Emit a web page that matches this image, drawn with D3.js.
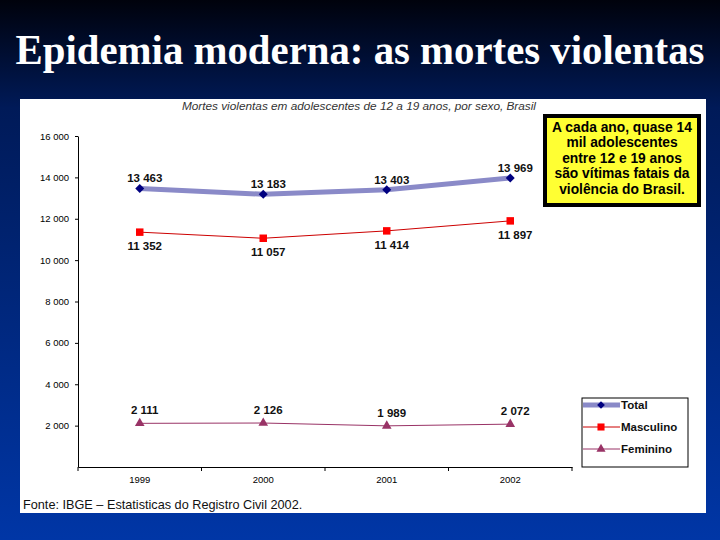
<!DOCTYPE html>
<html>
<head>
<meta charset="utf-8">
<script src="https://cdn.jsdelivr.net/npm/d3@7"></script>
<style>
  body { margin: 0; }
  svg { display: block; }
</style>
</head>
<body>
<svg id="chart" width="720" height="540"></svg>
<script>
// data
var years = ['1999', '2000', '2001', '2002'];
var total = [13463, 13183, 13403, 13969];
var masculino = [11352, 11057, 11414, 11897];
var feminino = [2111, 2126, 1989, 2072];
var yTicks = [2000, 4000, 6000, 8000, 10000, 12000, 14000, 16000];
var calloutLines = ['A cada ano, quase 14', 'mil adolescentes', 'entre 12 e 19 anos',
                    'são vítimas fatais da', 'violência do Brasil.'];

var svg = d3.select('#chart');

// slide background gradient
var defs = svg.append('defs');
var grad = defs.append('linearGradient')
    .attr('id', 'bg').attr('x1', 0).attr('y1', 0).attr('x2', 0).attr('y2', 1);
grad.append('stop').attr('offset', '0%').attr('stop-color', '#00020c');
grad.append('stop').attr('offset', '20%').attr('stop-color', '#001a58');
grad.append('stop').attr('offset', '100%').attr('stop-color', '#0036a6');
svg.append('rect').attr('width', 720).attr('height', 540).attr('fill', 'url(#bg)');

// slide title, stretched a bit vertically to look like the condensed original
svg.append('text')
    .attr('transform', 'translate(360,64) scale(1,1.05)')
    .attr('text-anchor', 'middle')
    .attr('font-family', '"Liberation Serif", "Times New Roman", serif')
    .attr('font-weight', 'bold')
    .attr('font-size', 40.8)
    .attr('fill', 'white')
    .text('Epidemia moderna: as mortes violentas');

// white chart panel
svg.append('rect')
    .attr('x', 20).attr('y', 99).attr('width', 686).attr('height', 414)
    .attr('fill', 'white');

// chart subtitle
svg.append('text')
    .attr('x', 536).attr('y', 110)
    .attr('text-anchor', 'end')
    .attr('font-family', '"Liberation Sans", Arial, sans-serif')
    .attr('font-style', 'italic')
    .attr('font-size', 11.8)
    .attr('fill', '#333')
    .text('Mortes violentas em adolescentes de 12 a 19 anos, por sexo, Brasil');

// scales
var x = d3.scaleBand().domain(years).range([78, 572]);
var y = d3.scaleLinear().domain([0, 16000]).range([467, 136]);
var cx = function(d, i) { return x(years[i]) + x.bandwidth() / 2; };

var fmt = function(v) { return d3.format(',')(v).replace(/,/g, ' '); };

// y axis
var yAxis = svg.append('g')
    .attr('transform', 'translate(78,0)')
    .call(d3.axisLeft(y).tickValues(yTicks).tickSize(3).tickSizeOuter(0)
        .tickFormat(fmt));
yAxis.select('.domain').attr('stroke', '#000');
yAxis.selectAll('text')
    .attr('font-family', '"Liberation Sans", Arial, sans-serif')
    .attr('font-size', 9.5).attr('fill', '#000').attr('x', -9);
yAxis.selectAll('line').attr('stroke', '#000');

// x axis
var xAxis = svg.append('g')
    .attr('transform', 'translate(0,467)')
    .call(d3.axisBottom(x).tickSize(0).tickSizeOuter(0));
xAxis.select('.domain').attr('stroke', '#000');
xAxis.selectAll('text')
    .attr('font-family', '"Liberation Sans", Arial, sans-serif')
    .attr('font-size', 9.5).attr('fill', '#000').attr('dy', '1.35em');
// category separators
xAxis.selectAll('.sep')
    .data(years.concat(['end']))
    .join('line')
    .attr('class', 'sep')
    .attr('x1', function(d, i) { return 78 + i * x.bandwidth(); })
    .attr('x2', function(d, i) { return 78 + i * x.bandwidth(); })
    .attr('y1', 0).attr('y2', 4)
    .attr('stroke', '#000');

var line = d3.line().x(cx).y(function(d) { return y(d); });

// Total series
svg.append('path').datum(total)
    .attr('d', line).attr('fill', 'none')
    .attr('stroke', '#8a8ac8').attr('stroke-width', 5);
svg.selectAll('.m-total').data(total).join('path')
    .attr('class', 'm-total')
    .attr('d', d3.symbol(d3.symbolSquare, 40))
    .attr('transform', function(d, i) { return 'translate(' + cx(d, i) + ',' + y(d) + ') rotate(45)'; })
    .attr('fill', '#000080');

// Masculino series
svg.append('path').datum(masculino)
    .attr('d', line).attr('fill', 'none')
    .attr('stroke', '#cc0000').attr('stroke-width', 1);
svg.selectAll('.m-masc').data(masculino).join('path')
    .attr('class', 'm-masc')
    .attr('d', d3.symbol(d3.symbolSquare, 56))
    .attr('transform', function(d, i) { return 'translate(' + cx(d, i) + ',' + y(d) + ')'; })
    .attr('fill', '#ff0000');

// Feminino series
svg.append('path').datum(feminino)
    .attr('d', line).attr('fill', 'none')
    .attr('stroke', '#993366').attr('stroke-width', 1);
svg.selectAll('.m-fem').data(feminino).join('path')
    .attr('class', 'm-fem')
    .attr('d', d3.symbol(d3.symbolTriangle, 40))
    .attr('transform', function(d, i) { return 'translate(' + cx(d, i) + ',' + y(d) + ')'; })
    .attr('fill', '#993366');

// data labels
function labels(data, cls, dy) {
    svg.selectAll('.' + cls).data(data).join('text')
        .attr('class', cls)
        .attr('x', function(d, i) { return cx(d, i) + 5; })
        .attr('y', function(d) { return y(d) + dy; })
        .attr('text-anchor', 'middle')
        .attr('font-family', '"Liberation Sans", Arial, sans-serif')
        .attr('font-weight', 'bold')
        .attr('font-size', 11.5)
        .attr('fill', '#111')
        .text(fmt);
}
labels(total, 'l-total', -6);
labels(masculino, 'l-masc', 18);
labels(feminino, 'l-fem', -9);

// legend
var legend = svg.append('g');
legend.append('rect')
    .attr('x', 582).attr('y', 398).attr('width', 106).attr('height', 69)
    .attr('fill', 'white').attr('stroke', '#000').attr('stroke-width', 1);
var legItems = [
    {name: 'Total', color: '#8a8ac8', width: 5, mark: '#000080', sym: d3.symbolSquare, size: 30, rot: 45},
    {name: 'Masculino', color: '#cc0000', width: 1, mark: '#ff0000', sym: d3.symbolSquare, size: 50, rot: 0},
    {name: 'Feminino', color: '#993366', width: 1, mark: '#993366', sym: d3.symbolTriangle, size: 36, rot: 0}
];
legItems.forEach(function(it, i) {
    var ly = 405 + i * 22;
    legend.append('line')
        .attr('x1', 583).attr('x2', 620).attr('y1', ly).attr('y2', ly)
        .attr('stroke', it.color).attr('stroke-width', it.width);
    legend.append('path')
        .attr('d', d3.symbol(it.sym, it.size))
        .attr('transform', 'translate(601,' + ly + ') rotate(' + it.rot + ')')
        .attr('fill', it.mark);
    legend.append('text')
        .attr('x', 621).attr('y', ly + 4)
        .attr('font-family', '"Liberation Sans", Arial, sans-serif')
        .attr('font-weight', 'bold')
        .attr('font-size', 11.5)
        .attr('fill', '#111')
        .text(it.name);
});

// callout box
svg.append('rect')
    .attr('x', 545).attr('y', 116).attr('width', 154).attr('height', 89)
    .attr('fill', '#ffff33').attr('stroke', '#000').attr('stroke-width', 4);
svg.selectAll('.callout').data(calloutLines).join('text')
    .attr('class', 'callout')
    .attr('x', 622)
    .attr('y', function(d, i) { return 132 + i * 15.4; })
    .attr('text-anchor', 'middle')
    .attr('font-family', '"Liberation Sans", Arial, sans-serif')
    .attr('font-weight', 'bold')
    .attr('font-size', 13.8)
    .attr('fill', '#000')
    .text(function(d) { return d; });

// source note
svg.append('text')
    .attr('x', 23).attr('y', 509)
    .attr('font-family', '"Liberation Sans", Arial, sans-serif')
    .attr('font-size', 12.7)
    .attr('fill', '#111')
    .text('Fonte: IBGE – Estatisticas do Registro Civil 2002.');
</script>
</body>
</html>
